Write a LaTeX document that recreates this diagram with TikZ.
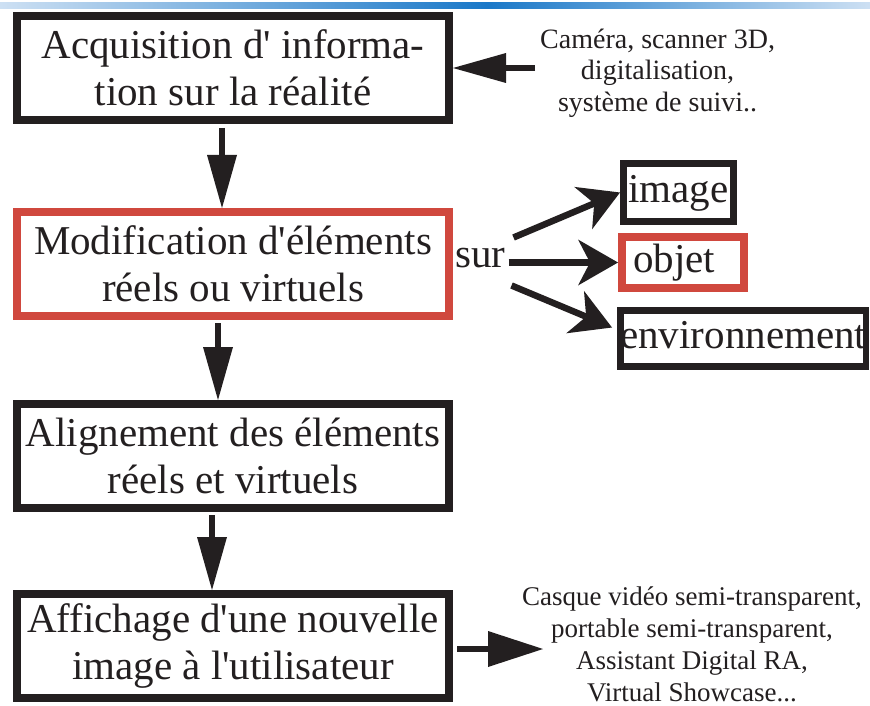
\documentclass[tikz,border=0pt]{standalone}
\usepackage{fontspec}
\setmainfont{Liberation Serif}
\usetikzlibrary{arrows.meta,positioning}
\definecolor{inkblack}{RGB}{35,31,32}
\definecolor{boxred}{RGB}{208,72,62}
\definecolor{barpale}{RGB}{205,224,243}
\definecolor{bardark}{RGB}{26,120,200}
\pgfdeclarehorizontalshading{topbar}{100bp}{color(0bp)=(barpale); color(25bp)=(barpale); color(53bp)=(bardark); color(75bp)=(barpale); color(100bp)=(barpale)}
\newcommand{\boxfont}{\fontsize{41}{47}\selectfont}
\newcommand{\notefont}{\fontsize{28}{31.5}\selectfont}
\newcommand{\devfont}{\fontsize{27}{32}\selectfont}

\begin{document}
\begin{tikzpicture}[x=1pt, y=1pt,
    mainbox/.style={draw=inkblack, line width=8pt, minimum width=432pt, minimum height=104pt, align=center, text=inkblack, font=\boxfont},
    sidebox/.style={draw=inkblack, line width=7pt, inner xsep=0pt, text height=28pt, text depth=9pt, text=inkblack, font=\boxfont},
    note/.style={align=center, inner sep=0pt, text=inkblack, font=\notefont},
    flow/.style={draw=inkblack, line width=6.5pt, -{Triangle[length=53pt, width=30pt, line width=0pt]}},
    branch/.style={draw=inkblack, line width=6.5pt, -{Stealth[length=40pt, width=46pt, inset=12pt, line width=0pt]}}]
  \useasboundingbox (0,0) rectangle (870,-706);
  % Header bar
  \shade[shading=topbar] (0,-3) rectangle (870,-8.5);

  % Main column of steps
  \node[mainbox] (acq) at (233,-68) {Acquisition d\textquotesingle{} informa-\\tion sur la réalité};
  \node[mainbox, draw=boxred, below=84pt of acq] (modif) {Modification d\textquotesingle éléments\\réels ou virtuels};
  \node[mainbox, below=80pt of modif] (align) {Alignement des éléments\\réels et virtuels};
  \node[mainbox, below=78pt of align] (affich) {Affichage d\textquotesingle une nouvelle\\image à l\textquotesingle utilisateur};

  % Inputs and outputs
  \node[note, right=87pt of acq, yshift=-5pt] (src) {Caméra, scanner 3D,\\digitalisation,\\système de suivi..};
  \node[note, font=\devfont, right=69pt of affich, yshift=1.5pt] (dev) {Casque vidéo semi-transparent,\\portable semi-transparent,\\Assistant Digital RA,\\Virtual Showcase...};

  % What the modification acts on
  \node[inner sep=0pt, text=inkblack, font=\boxfont, right=2pt of modif, yshift=5.5pt] (sur) {sur};
  \node[sidebox, minimum width=110pt, minimum height=58pt, right=167pt of modif, yshift=71.5pt] (imgbox) {image};
  \node[sidebox, draw=boxred, line width=8pt, inner xsep=11pt, text width=100pt, align=left, minimum height=51pt, right=165pt of modif, yshift=1.5pt] (objbox) {objet};
  \node[sidebox, line width=6.5pt, minimum width=245pt, minimum height=56pt, right=164pt of modif, yshift=-74.5pt] (envbox) {environnement};

  % Connectors of the main column
  \draw[flow] ([xshift=-11pt, yshift=-4pt]acq.south) -- ([xshift=-11pt]modif.north);
  \draw[flow] ([xshift=-15pt, yshift=-3pt]modif.south) -- ([xshift=-15pt]align.north);
  \draw[flow] ([xshift=-21pt, yshift=-3pt]align.south) -- ([xshift=-21pt]affich.north);
  % Side connectors
  \draw[flow] ([xshift=-5pt]src.west |- acq.east) -- (acq.east);
  \draw[flow, -{Triangle[length=55pt, width=36pt, line width=0pt]}] ([xshift=4pt, yshift=-3pt]affich.east) -- ([xshift=21pt, yshift=-3pt]dev.west |- affich.east);
  \draw[branch] ([shift={(8pt,21pt)}]sur.east) -- (imgbox.west);
  \draw[branch] ([xshift=3pt]sur.east |- objbox.west) -- (objbox.west);
  \draw[branch] ([shift={(6pt,-27pt)}]sur.east) -- ([shift={(-5pt,11pt)}]envbox.west);
\end{tikzpicture}
\end{document}
